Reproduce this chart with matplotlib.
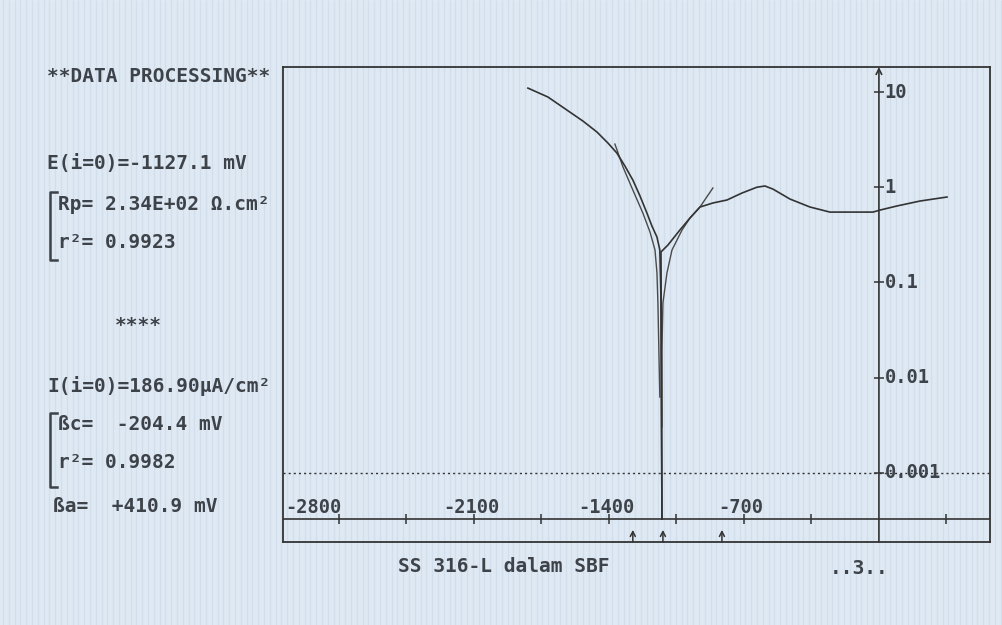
import numpy as np
import matplotlib.pyplot as plt
from matplotlib.lines import Line2D

# ====== polarization data: E in mV, i in mA/cm2 ======
E_CATH = [-1820, -1716, -1618, -1535, -1462, -1405, -1359, -1317, -1276,
          -1239, -1203, -1177, -1151, -1136, -1130, -1125]
I_CATH = [11.0, 8.86, 6.47, 4.96, 3.80, 2.91, 2.29, 1.67, 1.19,
          0.81, 0.536, 0.391, 0.300, 0.219, 0.0653, 3.27e-4]

E_ANOD = [-1125, -1130, -1094, -1032, -980, -928, -861, -788, -710, -633,
          -591, -550, -461, -358, -254, -150, -31, 5, 93, 213, 353]
I_ANOD = [3.27e-4, 0.209, 0.247, 0.355, 0.474, 0.619, 0.683, 0.734, 0.869, 1.00,
          1.03, 0.957, 0.751, 0.62, 0.548, 0.548, 0.548, 0.575, 0.635, 0.716, 0.789]

# Tafel fits
E_FIT_C = [-1369, -1327, -1276, -1224, -1187, -1161, -1151, -1146, -1141, -1136]
I_FIT_C = [2.84, 1.63, 0.935, 0.536, 0.338, 0.219, 0.126, 0.0608, 0.0195, 0.00625]
E_FIT_A = [-861, -928, -980, -1021, -1073, -1099, -1120, -1125, -1125]
I_FIT_A = [0.981, 0.619, 0.474, 0.355, 0.219, 0.126, 0.0608, 0.0195, 0.00303]

X_TICKS = [-2800, -2450, -2100, -1750, -1400, -1050, -700, -350, 350]
X_LABELS = ["-2800", "", "-2100", "", "-1400", "", "-700", "", ""]
Y_TICKS = [10, 1, 0.1, 0.01, 0.001]
Y_LABELS = ["10", "1", "0.1", "0.01", "0.001"]
ARROW_E = [-1276, -1120, -814]   # fit range markers

SUMMARY = [
    ("E(i=0)=-1127.1 mV", 47, 164),
    ("Rp= 2.34E+02 Ω.cm²", 58, 204),
    ("r²= 0.9923", 58, 242),
    ("****", 115, 325),
    ("I(i=0)=186.90µA/cm²", 47, 386),
    ("ßc=  -204.4 mV", 58, 425),
    ("r²= 0.9982", 58, 462),
    ("ßa=  +410.9 mV", 53, 507),
]
# ===========================

W, H = 1003, 625
INK = "#3e4249"
LINE = "#333333"
BG = "#dee9f3"
MONO = "DejaVu Sans Mono"

XLIM = (-3090, 576)
YLIM = (10 ** -3.727, 10 ** 1.263)
AXIS_I = 10 ** -3.485


def fx(px):
    return px / W


def fy(py):
    return 1 - py / H


def draw_background(fig):
    bg = fig.add_axes([0, 0, 1, 1], zorder=-5)
    bg.set_xlim(0, W)
    bg.set_ylim(H, 0)
    bg.axis("off")
    bg.vlines(np.arange(3, W, 5.8), 0, H, color="#b7c5de", alpha=0.28, lw=0.9)


def draw_summary(fig):
    kw = dict(family=MONO, fontsize=14, weight="bold", color=INK,
              va="center", ha="left")
    fig.text(fx(47), fy(76), "**DATA PROCESSING**", **kw)
    for txt, x, y in SUMMARY:
        fig.text(fx(x), fy(y), txt, **kw)

    # square brackets grouping the fit results
    for top, bot in [(192, 260), (413, 487)]:
        xs = [fx(57), fx(50), fx(50), fx(57)]
        ys = [fy(top), fy(top), fy(bot), fy(bot)]
        fig.add_artist(Line2D(xs, ys, color=INK, lw=1.8))

    fig.text(fx(398), fy(566), "SS 316-L dalam SBF", **kw)
    fig.text(fx(830), fy(568), "..3..", **kw)


def draw_plot(fig):
    ax = fig.add_axes([fx(283), fy(542), fx(990) - fx(283), fy(67) - fy(542)])
    ax.set_facecolor("none")
    ax.set_yscale("log")
    ax.set_xlim(*XLIM)
    ax.set_ylim(*YLIM)
    ax.set_xticks([])
    ax.set_yticks([])
    ax.minorticks_off()
    for sp in ax.spines.values():
        sp.set_color(LINE)
        sp.set_linewidth(1.3)

    # x axis line and dotted 0.001 reference
    ax.axhline(AXIS_I, color=LINE, lw=1.2)
    ax.axhline(0.001, color=LINE, lw=1.0, ls=(0, (1.5, 2.2)))

    # y axis with arrow
    ax.annotate("", xy=(0, YLIM[1]), xytext=(0, YLIM[0]),
                arrowprops=dict(arrowstyle="->", color=LINE, lw=1.2,
                                shrinkA=0, shrinkB=0))

    ax.plot(X_TICKS, [AXIS_I] * len(X_TICKS), ls="none", marker="|",
            ms=7, mew=1.1, color=LINE)
    ax.plot([0] * len(Y_TICKS), Y_TICKS, ls="none", marker="_",
            ms=7, mew=1.1, color=LINE)

    tick_kw = dict(family=MONO, fontsize=13.5, weight="bold", color=INK, va="center")
    for e, lab in zip(X_TICKS, X_LABELS):
        if not lab:
            continue
        if e == X_TICKS[0]:
            ax.text(XLIM[0] + 10, 10 ** -3.36, lab, ha="left", **tick_kw)
        else:
            ax.text(e - 15, 10 ** -3.36, lab, ha="center", **tick_kw)

    for v, lab in zip(Y_TICKS, Y_LABELS):
        ax.annotate(lab, xy=(0, v), xytext=(4, 0), textcoords="offset points",
                    ha="left", **tick_kw)

    for e in ARROW_E:
        ax.annotate("", xy=(e, 10 ** -3.60), xytext=(e, YLIM[0]),
                    arrowprops=dict(arrowstyle="->,head_length=0.35,head_width=0.18",
                                    color=LINE, lw=1.1, shrinkA=0, shrinkB=0))

    ax.plot(E_FIT_C, I_FIT_C, color="#4a4a4a", lw=1.0)
    ax.plot(E_FIT_A, I_FIT_A, color="#4a4a4a", lw=1.0)
    ax.plot(E_CATH, I_CATH, color=LINE, lw=1.2)
    ax.plot(E_ANOD, I_ANOD, color=LINE, lw=1.2)
    return ax


def main():
    fig = plt.figure(figsize=(W / 100, H / 100), dpi=100, facecolor=BG)
    draw_background(fig)
    draw_plot(fig)
    draw_summary(fig)
    fig.savefig("out.png", dpi=100, facecolor=BG)
    plt.close(fig)


if __name__ == "__main__":
    main()
